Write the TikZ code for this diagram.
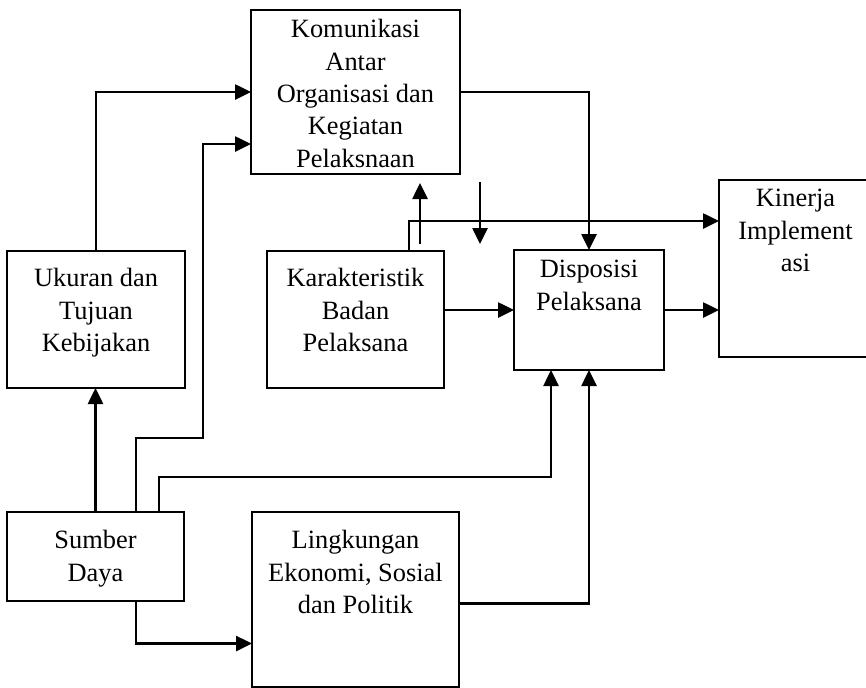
\documentclass[tikz,border=0pt]{standalone}
\usepackage{fontspec}
\setmainfont{Liberation Serif}
\usetikzlibrary{arrows.meta, positioning}
\newcommand{\isifont}{\fontsize{13.2}{16.2}\selectfont}
\tikzset{
  kotak/.style 2 args={
    rectangle, draw=black, line width=0.9pt,
    minimum width=#1, minimum height=#2,
    inner sep=0pt, outer sep=0pt
  },
  isi/.style={anchor=north, inner sep=0pt, align=center, font=\isifont},
  panah/.style={line width=1.3pt, -{Triangle[length=8pt, width=7.5pt]}}
}

\begin{document}
\begin{tikzpicture}[x=0.5pt, y=-0.5pt]
  \clip (0,0) rectangle (866,687);
  \node[kotak={104.5pt}{82pt},
        label={[isi, yshift=-4.5pt]north:{Komunikasi\\Antar\\Organisasi dan\\Kegiatan\\Pelaksnaan}}]
        (kom) at (355.5,92) {};
  \node[kotak={89pt}{68.5pt},
        label={[isi, yshift=-8.5pt]north:{Ukuran dan\\Tujuan\\Kebijakan}}]
        (uku) at (96,319.5) {};
  \node[kotak={88.5pt}{68.5pt}, right=41pt of uku,
        label={[isi, yshift=-8.5pt]north:{Karakteristik\\Badan\\Pelaksana}}]
        (kar) {};
  \node[kotak={75pt}{60pt},
        label={[isi, yshift=-5pt]north:{Disposisi\\Pelaksana}}]
        (dis) at (589,310) {};
  \node[kotak={76.5pt}{88.5pt},
        label={[isi, yshift=-4.5pt]north:{Kinerja\\Implement\\asi}}]
        (kin) at (795.5,268.5) {};
  \node[kotak={88.5pt}{44.5pt},
        label={[isi, yshift=-9pt]north:{Sumber\\Daya}}]
        (sum) at (95.5,556.5) {};
  \node[kotak={103.5pt}{87.5pt},
        label={[isi, yshift=-9pt]north:{Lingkungan\\Ekonomi, Sosial\\dan Politik}}]
        (lin) at (355.5,599.5) {};

  % panah lepas antara karakteristik dan komunikasi
  \coordinate (naikA) at (420,244);
  \coordinate (naikB) at (420,183);
  \coordinate (turunA) at (480,182);
  \coordinate (turunB) at (480,244);

  \draw[panah] (sum.north) -- (sum.north |- uku.south);
  \draw[panah] (uku.north) |- (kom.west);
  \draw[panah] ([xshift=20.25pt]sum.north) |- ++(67,-74) |- ([yshift=-26pt]kom.west);
  \draw[panah] ([xshift=31.75pt]sum.north) -- ++(0,-35) -| ([xshift=-19pt]dis.south);
  \draw[panah] ([xshift=20.25pt]sum.south) |- ([yshift=-22pt]lin.west);
  \draw[panah] ([yshift=-2pt]lin.east) -| (dis.south);
  \draw[panah] (kom.east) -| (dis.north);
  \draw[panah] ([xshift=26.75pt]kar.north) |- ([yshift=23.75pt]kin.west);
  \draw[panah] (dis.west -| kar.east) -- (dis.west);
  \draw[panah] (dis.east) -- (dis.east -| kin.west);
  \draw[panah] (naikA) -- (naikB);
  \draw[panah] (turunA) -- (turunB);
\end{tikzpicture}
\end{document}
